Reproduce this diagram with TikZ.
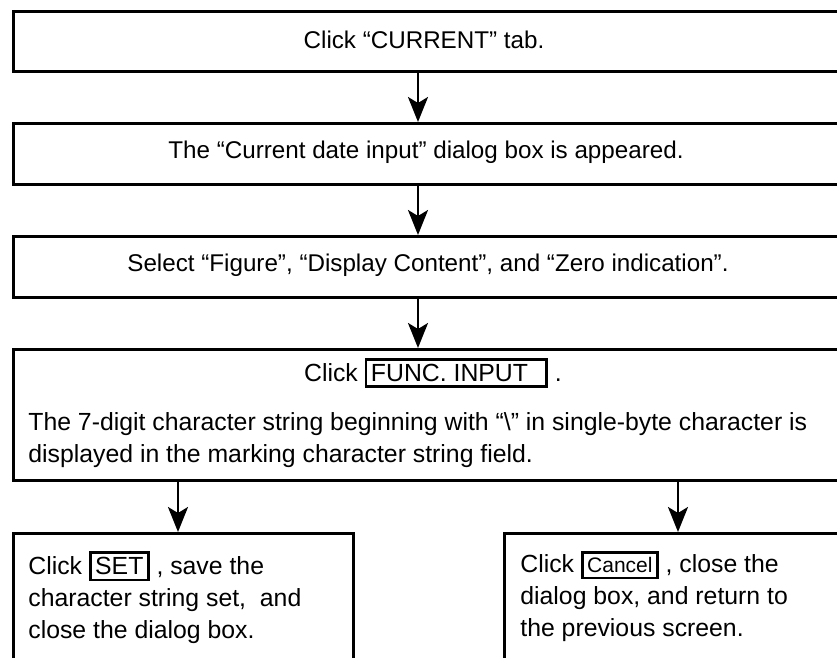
\documentclass[tikz,border=0pt]{standalone}
\usepackage{fontspec}
\setmainfont{Liberation Sans}
\usetikzlibrary{arrows.meta}

\tikzset{
  flowbox/.style={draw, line width=1.5pt, inner sep=0pt, anchor=north west},
  flowarrow/.style={line width=1.1pt, -{Stealth[length=12.5pt,width=10pt,inset=3pt]}},
  flowtext/.style={inner sep=0pt, font=\fontsize{12.4}{16}\selectfont},
  titletext/.style={inner sep=0pt, font=\fontsize{12.1}{16}\selectfont},
}
\newcommand{\keybox}[1]{{\setlength{\fboxsep}{1.8pt}\setlength{\fboxrule}{1.3pt}\fbox{#1}}}

\begin{document}
\begin{tikzpicture}[x=0.5pt,y=-0.5pt]
  \clip (0,0) rectangle (837,658);

  % Arrow columns
  \coordinate (mid) at (418,0);
  \coordinate (leftcol) at (178,0);
  \coordinate (rightcol) at (678,0);

  % Boxes
  \node[flowbox, minimum width=434pt, minimum height=30pt] (tab) at (12,10) {};
  \node[flowbox, minimum width=434pt, minimum height=30.5pt] (dialog) at (12,122) {};
  \node[flowbox, minimum width=434pt, minimum height=30.5pt] (select) at (12,235) {};
  \node[flowbox, minimum width=434pt, minimum height=65.5pt] (func) at (12,348) {};
  \node[flowbox, minimum width=170pt, minimum height=90pt] (set) at (12,532) {};
  \node[flowbox, minimum width=190pt, minimum height=90pt] (cancel) at (503,532) {};

  % Texts
  \node[titletext] (tabtext) at (424,40) {Click “CURRENT” tab.};
  \node[titletext] (dialogtext) at (426,152) {The “Current date input” dialog box is appeared.};
  \node[titletext] (selecttext) at (428,265) {Select “Figure”, “Display Content”, and “Zero indication”.};
  \node[flowtext] (functext) at (433,373) {Click \keybox{FUNC. INPUT\ \ } .};
  \node[flowtext, anchor=north west, align=left] (desctext) at (28,412)
    {The 7-digit character string beginning with “\textbackslash” in single-byte character is\\
     displayed in the marking character string field.};
  \node[flowtext, anchor=north west, align=left] (settext) at (28,551)
    {Click \keybox{SET} , save the\\ character string set,\ \ and\\ close the dialog box.};
  \node[flowtext, anchor=north west, align=left] (canceltext) at (520,551)
    {Click \keybox{\fontsize{10.5}{12}\selectfont Cancel} , close the\\ dialog box, and return to\\ the previous screen.};

  % Arrows
  \draw[flowarrow] (tab.south -| mid) -- (dialog.north -| mid);
  \draw[flowarrow] (dialog.south -| mid) -- (select.north -| mid);
  \draw[flowarrow] (select.south -| mid) -- (func.north -| mid);
  \draw[flowarrow] (func.south -| leftcol) -- (set.north -| leftcol);
  \draw[flowarrow] (func.south -| rightcol) -- (cancel.north -| rightcol);
\end{tikzpicture}
\end{document}
